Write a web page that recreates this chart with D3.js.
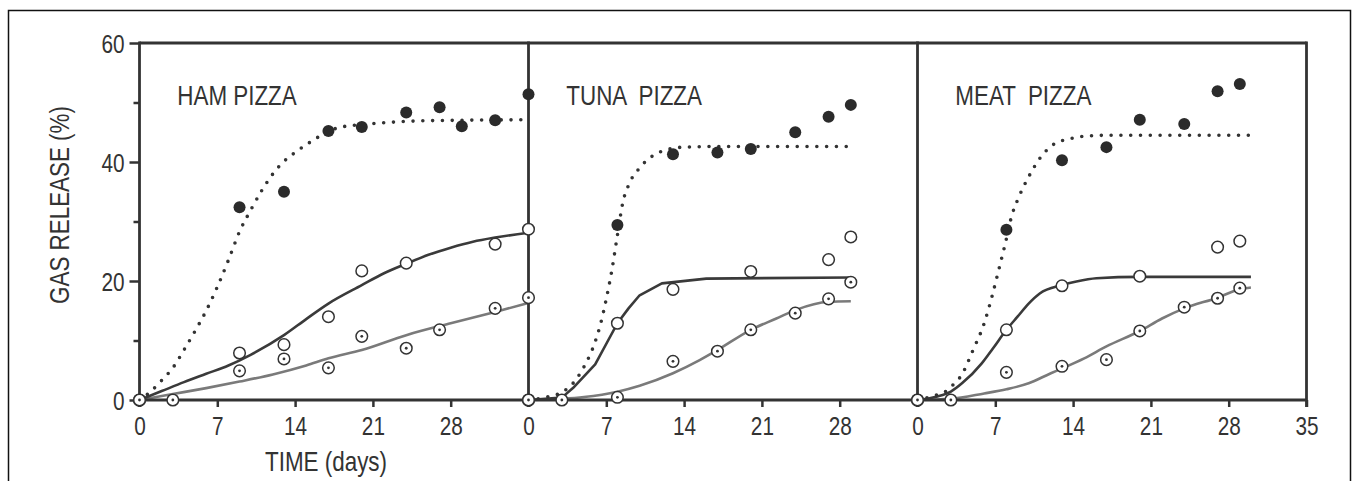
<!DOCTYPE html>
<html>
<head>
<meta charset="utf-8">
<script src="https://cdn.jsdelivr.net/npm/d3@7"></script>
<style>
  html, body { margin: 0; padding: 0; background: #fff; }
  svg text { font-family: "Liberation Sans", Arial, sans-serif; fill: #333; }
</style>
</head>
<body>
<div id="chart"></div>
<script>
// panel titles and tick values
const panelNames = ['HAM PIZZA', 'TUNA  PIZZA', 'MEAT  PIZZA'];
const dayTicks = [0, 7, 14, 21, 28];
const lastDayTicks = [0, 7, 14, 21, 28, 35];
const gasTicks = [0, 20, 40, 60];
const gasMinorTicks = [10, 30, 50];

// measured points [day, gas %] : filled circles, open circles, dotted circles
const hamFilled = [[0, 0], [9, 32.4], [13, 35.0], [17, 45.2], [20, 45.9], [24, 48.3], [27, 49.2], [29, 46.0], [32, 47.0], [35, 51.4]];
const hamOpen = [[0, 0], [9, 7.9], [13, 9.3], [17, 14.0], [20, 21.7], [24, 23.0], [32, 26.2], [35, 28.7]];
const hamDotted = [[0, 0], [3, 0], [9, 4.9], [13, 6.9], [17, 5.4], [20, 10.7], [24, 8.7], [27, 11.8], [32, 15.4], [35, 17.2]];

const tunaFilled = [[0, 0], [8, 29.4], [13, 41.3], [17, 41.6], [20, 42.2], [24, 45.0], [27, 47.6], [29, 49.6]];
const tunaOpen = [[0, 0], [8, 12.9], [13, 18.6], [20, 21.6], [27, 23.6], [29, 27.4]];
const tunaDotted = [[0, 0], [3, 0], [8, 0.45], [13, 6.5], [17, 8.2], [20, 11.8], [24, 14.6], [27, 17.0], [29, 19.8]];

const meatFilled = [[0, 0], [8, 28.6], [13, 40.3], [17, 42.5], [20, 47.1], [24, 46.4], [27, 51.9], [29, 53.1]];
const meatOpen = [[0, 0], [8, 11.8], [13, 19.2], [20, 20.8], [27, 25.7], [29, 26.7]];
const meatDotted = [[0, 0], [3, 0], [8, 4.65], [13, 5.66], [17, 6.78], [20, 11.6], [24, 15.6], [27, 17.1], [29, 18.8]];

// fitted curves [day, gas %]
const hamFilledFit = [[0, 0], [1, 1.4], [2, 3.3], [3, 5.4], [4, 8.4], [5, 11.6], [6, 15.0], [7, 19.0], [8, 23.5], [9, 28.3], [10, 31.9], [11, 35.2], [12, 38.0], [13, 40.1], [14, 41.6], [15, 42.9], [16, 44.1], [17, 45.2], [18, 45.8], [20, 46.3], [22, 46.6], [25, 46.9], [28, 47.0], [35, 47.1]];
const hamOpenFit = [[0, 0], [2, 1.5], [4, 3.0], [6, 4.4], [8, 5.8], [10, 7.6], [13, 10.9], [15, 13.6], [17, 16.2], [20, 19.3], [22, 21.3], [24, 22.9], [26, 24.4], [28, 25.6], [30, 26.6], [32, 27.3], [35, 28.1]];
const hamDottedFit = [[0, 0], [3, 1.0], [6, 2.0], [9, 3.1], [12, 4.3], [15, 5.8], [17, 7.0], [20, 8.4], [24, 10.9], [28, 12.9], [32, 14.8], [35, 16.3]];

const tunaFilledFit = [[0, 0], [1.5, 0.45], [3, 1.3], [4, 2.8], [5, 5.6], [6, 9.8], [6.5, 12.9], [7, 17.0], [7.5, 21.8], [8, 27.7], [8.5, 33.3], [9, 36.1], [10, 39.0], [11, 40.8], [12, 41.8], [13, 42.3], [14, 42.5], [17, 42.6], [29, 42.6]];
const tunaOpenFit = [[0, 0], [3, 0.4], [4, 2.0], [6, 6.0], [8, 12.9], [9, 15.4], [10, 17.6], [12, 19.6], [16, 20.4], [29, 20.6]];
const tunaDottedFit = [[0, 0], [3, 0.2], [5, 0.5], [8, 1.4], [10, 2.4], [13, 4.5], [15.4, 6.7], [17, 8.4], [20, 11.8], [22.3, 13.7], [24, 15.1], [27, 16.5], [29, 16.6]];

const meatFilledFit = [[0, 0], [1.7, 0.84], [2.5, 1.4], [3, 2.2], [4, 4.3], [5, 8.4], [6, 12.9], [6.7, 17.4], [7.3, 21.8], [7.9, 26.3], [8.5, 31.1], [9, 33.6], [10, 37.5], [11, 40.6], [12.2, 42.9], [13.7, 43.9], [15.5, 44.4], [17.3, 44.5], [30, 44.5]];
const meatOpenFit = [[0, 0], [1.7, 0.56], [3, 1.4], [4, 2.8], [5.8, 6.2], [6.8, 8.7], [8, 11.8], [9, 14.0], [10, 16.2], [11, 17.9], [13, 19.3], [14.3, 19.9], [16.1, 20.45], [20, 20.7], [30, 20.7]];
const meatDottedFit = [[0, 0], [3, 0.2], [6, 1.1], [8, 1.8], [10, 2.8], [12, 4.5], [13, 5.3], [15, 7.0], [17, 9.0], [20, 11.6], [22, 13.7], [24, 15.4], [27, 17.2], [29, 18.6], [30, 18.9]];

const series = [
  { filled: hamFilled, open: hamOpen, dotted: hamDotted, filledFit: hamFilledFit, openFit: hamOpenFit, dottedFit: hamDottedFit, openCurve: d3.curveMonotoneX },
  { filled: tunaFilled, open: tunaOpen, dotted: tunaDotted, filledFit: tunaFilledFit, openFit: tunaOpenFit, dottedFit: tunaDottedFit, openCurve: d3.curveLinear },
  { filled: meatFilled, open: meatOpen, dotted: meatDotted, filledFit: meatFilledFit, openFit: meatOpenFit, dottedFit: meatDottedFit, openCurve: d3.curveMonotoneX }
];

const width = 1355, height = 481;
const plotLeft = 139.5, panelW = 389, plotTop = 43, plotBottom = 400;
const ink = '#333';
const squeeze = 0.83; // the original face is a condensed grotesque

// squeeze text horizontally around its own anchor point
function narrow(sel) {
  sel.each(function() {
    const t = d3.select(this);
    const tx = +t.attr('x') || 0;
    const ty = +t.attr('y') || 0;
    const pre = t.attr('transform') || '';
    t.attr('x', 0).attr('y', 0)
      .attr('transform', `${pre} translate(${tx},${ty}) scale(${squeeze},1)`);
  });
}

const svg = d3.select('#chart').append('svg')
  .attr('width', width)
  .attr('height', height);

// outer frame (bottom edge runs off the picture)
svg.append('rect')
  .attr('x', 8.5).attr('y', 10.5)
  .attr('width', 1342).attr('height', 500)
  .attr('fill', 'none').attr('stroke', '#111').attr('stroke-width', 1.5);

const y = d3.scaleLinear().domain([0, 60]).range([plotBottom, plotTop]);

// left axis
const yAxis = svg.append('g')
  .attr('transform', `translate(${plotLeft},0)`)
  .call(d3.axisLeft(y).tickValues(gasTicks).tickSize(10).tickSizeOuter(0).tickPadding(5));
yAxis.select('.domain').remove();
yAxis.selectAll('line').attr('stroke', ink).attr('stroke-width', 2.5);
yAxis.selectAll('text').attr('font-size', 25).attr('fill', ink).attr('dy', '0.36em').call(narrow);

const yMinor = svg.append('g')
  .attr('transform', `translate(${plotLeft},0)`)
  .call(d3.axisLeft(y).tickValues(gasMinorTicks).tickSize(6).tickFormat(''));
yMinor.select('.domain').remove();
yMinor.selectAll('line').attr('stroke', ink).attr('stroke-width', 2.5);

svg.append('text')
  .attr('transform', `translate(69,205) rotate(-90)`)
  .attr('text-anchor', 'middle')
  .attr('font-size', 27)
  .text('GAS RELEASE (%)')
  .call(narrow);

series.forEach((s, i) => {
  const x0 = plotLeft + i * panelW;
  const x = d3.scaleLinear().domain([0, 35]).range([x0, x0 + panelW]);

  const xAxis = svg.append('g')
    .attr('transform', `translate(0,${plotBottom})`)
    .call(d3.axisBottom(x).tickValues(i === 2 ? lastDayTicks : dayTicks).tickSize(7).tickSizeOuter(0).tickPadding(8));
  xAxis.select('.domain').remove();
  xAxis.selectAll('line').attr('stroke', ink).attr('stroke-width', 2.5);
  xAxis.selectAll('text').attr('font-size', 25).attr('fill', ink).attr('dy', '0.78em').call(narrow);

  const line = d3.line()
    .x(d => x(d[0]))
    .y(d => y(d[1]))
    .curve(d3.curveMonotoneX);

  svg.append('path').datum(s.dottedFit)
    .attr('d', line).attr('fill', 'none')
    .attr('stroke', '#7a7a7a').attr('stroke-width', 2.6);
  svg.append('path').datum(s.openFit)
    .attr('d', line.curve(s.openCurve)).attr('fill', 'none')
    .attr('stroke', '#3a3a3a').attr('stroke-width', 2.6)
    .attr('stroke-linejoin', 'round');
  line.curve(d3.curveMonotoneX);
  svg.append('path').datum(s.filledFit)
    .attr('d', line).attr('fill', 'none')
    .attr('stroke', '#333').attr('stroke-width', 3.6)
    .attr('stroke-linecap', 'round')
    .attr('stroke-dasharray', '0 9.8');

  svg.append('text')
    .attr('x', x(3.4)).attr('y', 105)
    .attr('font-size', 27)
    .style('white-space', 'pre')
    .text(panelNames[i])
    .call(narrow);

  s.pt = x;
});

// plot frame: top, bottom, verticals
svg.append('line')
  .attr('x1', plotLeft).attr('x2', plotLeft + 3 * panelW)
  .attr('y1', plotTop).attr('y2', plotTop)
  .attr('stroke', ink).attr('stroke-width', 2.8);
svg.append('line')
  .attr('x1', plotLeft).attr('x2', plotLeft + 3 * panelW)
  .attr('y1', plotBottom).attr('y2', plotBottom)
  .attr('stroke', ink).attr('stroke-width', 2.8);
[0, 1, 2, 3].forEach(k => {
  svg.append('line')
    .attr('x1', plotLeft + k * panelW).attr('x2', plotLeft + k * panelW)
    .attr('y1', plotTop - 1.4).attr('y2', plotBottom + 7)
    .attr('stroke', ink).attr('stroke-width', 2.8);
});

// markers on top
series.forEach(s => {
  const x = s.pt;
  const g = svg.append('g');
  g.selectAll('.filled').data(s.filled).enter().append('circle')
    .attr('cx', d => x(d[0])).attr('cy', d => y(d[1]))
    .attr('r', 6).attr('fill', '#2b2b2b');
  g.selectAll('.open').data(s.open).enter().append('circle')
    .attr('cx', d => x(d[0])).attr('cy', d => y(d[1]))
    .attr('r', 5.8).attr('fill', '#fff').attr('stroke', ink).attr('stroke-width', 1.5);
  const dg = g.selectAll('.dotted').data(s.dotted).enter().append('g')
    .attr('transform', d => `translate(${x(d[0])},${y(d[1])})`);
  dg.append('circle').attr('r', 5.8).attr('fill', '#fff').attr('stroke', ink).attr('stroke-width', 1.5);
  dg.append('circle').attr('r', 1.4).attr('fill', ink);
});

svg.append('text')
  .attr('x', 326).attr('y', 471)
  .attr('text-anchor', 'middle')
  .attr('font-size', 27)
  .text('TIME (days)')
  .call(narrow);
</script>
</body>
</html>
